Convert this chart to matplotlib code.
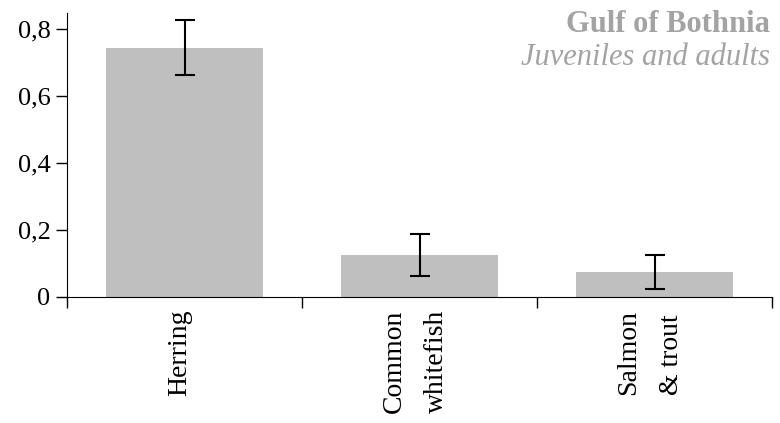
import matplotlib.pyplot as plt
from matplotlib.ticker import FuncFormatter

species = ["Herring", "Common\nwhitefish", "Salmon\n& trout"]
share = [0.743, 0.125, 0.075]
err = [0.082, 0.062, 0.050]

plt.rcParams["font.family"] = ["Liberation Serif", "DejaVu Serif"]

fig, ax = plt.subplots(figsize=(7.8, 4.23), dpi=100)
fig.subplots_adjust(left=0.086, right=0.99, top=0.97, bottom=0.298)

x = list(range(len(species)))
ax.bar(x, share, width=0.67, color="#bfbfbf", zorder=1)
ax.errorbar(x, share, yerr=err, fmt="none", ecolor="black", elinewidth=1.5,
            capsize=7, capthick=1.5, zorder=2)

ax.set_xlim(-0.5, 2.5)
ax.set_ylim(0, 0.848)
ax.set_yticks([0, 0.2, 0.4, 0.6, 0.8])
ax.yaxis.set_major_formatter(FuncFormatter(lambda v, p: "0" if v == 0 else f"{v:.1f}".replace(".", ",")))
ax.tick_params(axis="y", labelsize=19, length=8, width=1, direction="out", pad=4)

# tick marks sit on the category boundaries, names are drawn under the bars
ax.set_xticks([-0.5, 0.5, 1.5, 2.5])
ax.set_xticklabels([])
ax.tick_params(axis="x", which="major", length=8, width=1, direction="out")
xform = ax.get_xaxis_transform()
for xi, name in zip(x, species):
    ax.text(xi - 0.02, -0.045, name, transform=xform, rotation=90, ha="center", va="top",
            fontsize=20, linespacing=1.9, multialignment="left")

for side in ["top", "right"]:
    ax.spines[side].set_visible(False)
ax.spines["left"].set_bounds(0, 0.848)
ax.spines["bottom"].set_position(("data", 0))

fig.text(0.987, 0.977, "Gulf of Bothnia", ha="right", va="top", fontsize=22,
         fontweight="bold", color="#a3a3a3")
fig.text(0.987, 0.898, "Juveniles and adults", ha="right", va="top", fontsize=22,
         style="italic", color="#a3a3a3")

fig.savefig("out.png", dpi=100)
